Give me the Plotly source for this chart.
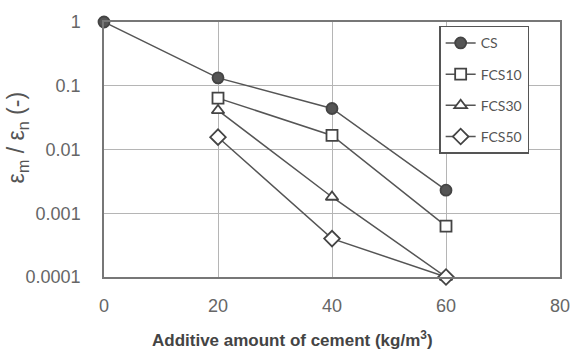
import plotly.graph_objects as go

cement = [0, 20, 40, 60]
cs = [1.0, 0.133, 0.044, 0.0023]
cement_f = [20, 40, 60]
fcs10 = [0.064, 0.0166, 0.00063]
fcs30 = [0.041, 0.0018, 0.0001]
fcs50 = [0.0156, 0.0004, 0.0001]

y_tickvals = [0.0001, 0.001, 0.01, 0.1, 1]
y_ticktext = ["0.0001", "0.001", "0.01", "0.1", "1"]
x_tickvals = [0, 20, 40, 60, 80]

LINE = "#555555"

series = [
    ("CS", cement, cs, "circle", LINE, 11),
    ("FCS10", cement_f, fcs10, "square", "white", 11),
    ("FCS30", cement_f, fcs30, "triangle-up", "white", 11),
    ("FCS50", cement_f, fcs50, "diamond", "white", 12),
]

fig = go.Figure()
for name, xs, ys, sym, fill, size in series:
    fig.add_trace(go.Scatter(
        x=xs, y=ys, name=name, mode="lines+markers",
        legendgroup=name,
        line=dict(color=LINE, width=1.5),
        marker=dict(symbol=sym, size=size, color=fill,
                    line=dict(color="#444444", width=1.8)),
        cliponaxis=False,
    ))

fig.update_layout(
    width=582, height=352,
    margin=dict(l=104, r=14, t=19, b=75),
    paper_bgcolor="white", plot_bgcolor="white",
    font=dict(family="Liberation Sans, Arial, sans-serif", color="#555555"),
    showlegend=True,
    legend=dict(
        x=0.735, y=0.985, xanchor="left", yanchor="top",
        bgcolor="white", bordercolor="#555555", borderwidth=1.5,
        font=dict(size=14, color="#555555", family="Lato, Liberation Sans, sans-serif"),
        traceorder="grouped", tracegroupgap=10,
        itemwidth=30,
    ),
    xaxis=dict(
        range=[0, 80], tickvals=x_tickvals,
        showgrid=True, gridcolor="#b5b5b5", gridwidth=1,
        showline=True, linecolor="#777777", linewidth=1.5, mirror=True,
        ticks="", ticklabelstandoff=12,
        tickfont=dict(size=18, color="#666666"),
        zeroline=False,
    ),
    yaxis=dict(
        type="log", range=[-4, 0],
        tickvals=y_tickvals, ticktext=y_ticktext,
        showgrid=True, gridcolor="#b5b5b5", gridwidth=1,
        showline=True, linecolor="#777777", linewidth=1.5, mirror=True,
        ticks="", ticklabelstandoff=18,
        tickfont=dict(size=18, color="#666666"),
        zeroline=False,
    ),
    annotations=[
        dict(text="<b>Additive amount of cement (kg/m<sup>3</sup>)</b>",
             xref="paper", yref="paper", x=0.414, y=-0.245,
             xanchor="center", yanchor="middle", showarrow=False,
             font=dict(size=17, color="#444444",
                       family="Liberation Sans, Arial, sans-serif"),
             ),
        dict(text="ε<sub>m</sub> / ε<sub>n</sub> (-)",
             xref="paper", yref="paper", x=-0.19, y=0.545,
             xanchor="center", yanchor="middle", showarrow=False,
             textangle=-90,
             font=dict(size=23, color="#555555",
                       family="Liberation Sans, Arial, sans-serif"),
             ),
    ],
)

fig.write_html("out.html")
